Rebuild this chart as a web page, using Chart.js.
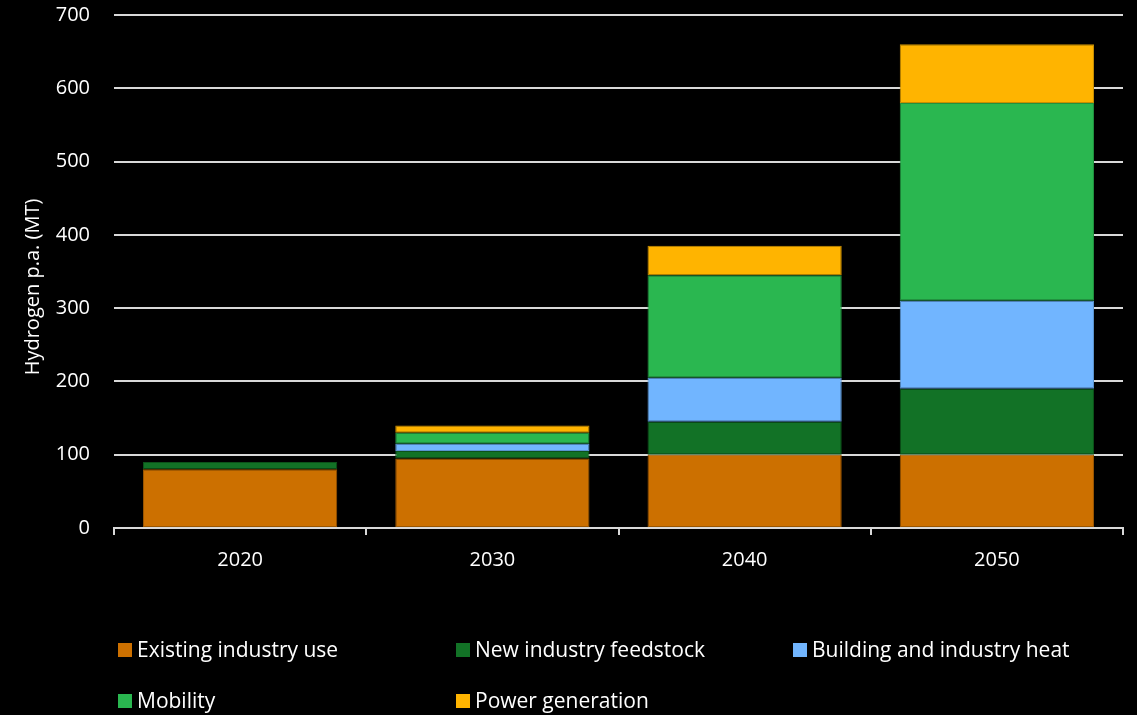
<!DOCTYPE html>
<html>
<head>
<meta charset="utf-8">
<script src="https://cdn.jsdelivr.net/npm/chart.js@4/dist/chart.umd.min.js"></script>
<style>
  html, body { margin: 0; padding: 0; background: #000; }
  #wrap { position: relative; width: 1137px; height: 715px; }
</style>
</head>
<body>
<div id="wrap"><canvas id="chart" width="1137" height="715"></canvas></div>
<script>
// Hydrogen demand by end use, million tonnes per year
const years = ['2020', '2030', '2040', '2050'];
const existingIndustryUse = [80, 95, 100, 100];
const newIndustryFeedstock = [10, 10, 45, 90];
const buildingIndustryHeat = [0, 10, 60, 120];
const mobility = [0, 15, 140, 270];
const powerGeneration = [0, 10, 40, 80];
const yAxisTitle = 'Hydrogen p.a. (MT)';

const seriesNames = ['Existing industry use', 'New industry feedstock', 'Building and industry heat', 'Mobility', 'Power generation'];
const seriesFill = ['#CC7000', '#127226', '#71B5FF', '#2AB750', '#FFB400'];
const seriesEdge = ['#9a5500', '#0c5219', '#5a93cf', '#21913f', '#c98e00'];
const seriesValues = [existingIndustryUse, newIndustryFeedstock, buildingIndustryHeat, mobility, powerGeneration];

const FONT = '"Open Sans", Lato, sans-serif';
const TEXT = '#ffffff';
const GRID = '#d9d9d9';

// Legend on a fixed three-column grid under the axis, plus the rotated y-axis title
const gridLegend = {
  id: 'gridLegend',
  afterDraw(chart) {
    const ctx = chart.ctx;
    const cols = [118, 456, 793];
    const rows = [650, 701];
    const box = 14;
    ctx.save();
    ctx.font = '21px ' + FONT;
    ctx.textBaseline = 'middle';
    ctx.textAlign = 'left';
    chart.data.datasets.forEach((ds, i) => {
      const x = cols[i % 3];
      const y = rows[Math.floor(i / 3)];
      ctx.fillStyle = ds.backgroundColor;
      ctx.fillRect(x, y - box / 2, box, box);
      ctx.fillStyle = TEXT;
      ctx.fillText(ds.label, x + box + 5, y + 1);
    });
    ctx.restore();

    ctx.save();
    ctx.translate(33, 287);
    ctx.rotate(-Math.PI / 2);
    ctx.font = '20px ' + FONT;
    ctx.fillStyle = TEXT;
    ctx.textAlign = 'center';
    ctx.textBaseline = 'middle';
    ctx.fillText(yAxisTitle, 0, 0);
    ctx.restore();
  }
};

new Chart(document.getElementById('chart'), {
  type: 'bar',
  data: {
    labels: years,
    datasets: seriesNames.map((name, i) => ({
      label: name,
      data: seriesValues[i],
      backgroundColor: seriesFill[i],
      borderColor: seriesEdge[i],
      borderWidth: 1,
      borderSkipped: false,
      barPercentage: 0.77,
      categoryPercentage: 1.0
    }))
  },
  options: {
    responsive: false,
    animation: false,
    devicePixelRatio: 1,
    layout: { padding: { top: 15, right: 14, bottom: 0, left: 0 } },
    plugins: {
      legend: { display: false },
      tooltip: { enabled: false }
    },
    scales: {
      x: {
        stacked: true,
        offset: true,
        grid: {
          offset: true,
          drawOnChartArea: false,
          drawTicks: true,
          tickLength: 7,
          color: GRID,
          lineWidth: 2
        },
        border: { display: true, color: GRID, width: 2 },
        ticks: { color: TEXT, font: { family: FONT, size: 20 }, padding: 13 },
        afterFit(scale) { scale.height = 187; }
      },
      y: {
        stacked: true,
        min: 0,
        max: 700,
        ticks: { stepSize: 100, color: TEXT, font: { family: FONT, size: 20 }, padding: 3 },
        grid: { color: GRID, lineWidth: 2, drawTicks: true, tickLength: 21, tickColor: 'rgba(0,0,0,0)' },
        border: { display: false },
        afterFit(scale) { scale.width = 114; }
      }
    }
  },
  plugins: [gridLegend]
});
</script>
</body>
</html>
